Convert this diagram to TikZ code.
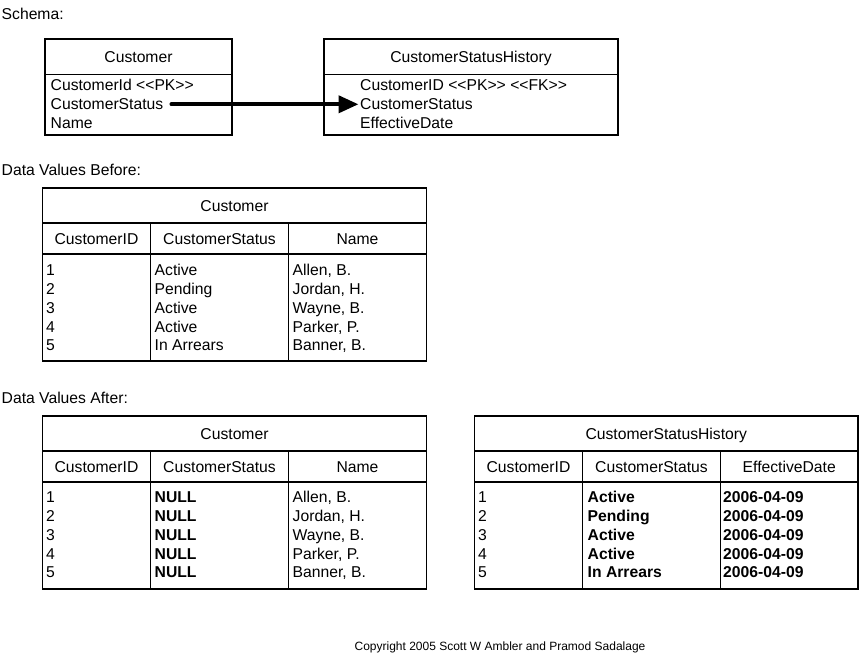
\documentclass[tikz,border=0pt]{standalone}
\usepackage{fontspec}
\setmainfont{Liberation Sans}
\usetikzlibrary{arrows.meta}
\newcommand\stereo[1]{<\kern0pt<#1>\kern0pt>}
\tikzset{
  txt/.style={font=\fontsize{15.7}{19}\selectfont, inner sep=0pt, text height=11.3pt, text depth=0pt},
  cell/.style={txt, anchor=west},
  boldcell/.style={cell, font=\fontsize{15.7}{19}\selectfont\bfseries},
  tblline/.style={draw, line width=1.4pt},
  link/.style={line width=4pt, line cap=round, -{Triangle[length=20pt,width=17pt]}}
}
\begin{document}
\begin{tikzpicture}[x=1pt,y=-1pt]
  \useasboundingbox (0,0) rectangle (860,655);

  % schema
  \node[cell] (schema) at (1.5,13.5) {Schema:};

  \draw[tblline] (45,39) rectangle (232,135);
  \draw[tblline] (45,74.5) -- (232,74.5);
  \node[txt] (custhead) at (138.5,57) {Customer};
  \node[cell] (custid) at (50.5,85) {CustomerId \stereo{PK}};
  \node[cell] (custstatus) at (50.5,104.3) {CustomerStatus};
  \node[cell] (custname) at (50.5,123.3) {Name};

  \draw[tblline] (324,39) rectangle (618,135);
  \draw[tblline] (324,74.5) -- (618,74.5);
  \node[txt] (histhead) at (471,57) {CustomerStatusHistory};
  \node[cell] (histid) at (360,85) {CustomerID \stereo{PK} \stereo{FK}};
  \node[cell] (histstatus) at (360,104.3) {CustomerStatus};
  \node[cell] (histdate) at (360,123.3) {EffectiveDate};

  \draw[link] ([xshift=8pt]custstatus.east) -- ([xshift=-1.5pt]histstatus.west);

  % data values before
  \node[cell] (before) at (1.5,170) {Data Values Before:};

  \draw[tblline] (42.5,188) rectangle (426.5,361);
  \draw[tblline] (42.5,223) -- (426.5,223);
  \draw[tblline] (42.5,254) -- (426.5,254);
  \draw[tblline] (150.5,223) -- (150.5,361);
  \draw[tblline] (288.5,223) -- (288.5,361);
  \node[txt] (bhead) at (234.5,206) {Customer};
  \node[txt] (bcol1) at (96.5,239) {CustomerID};
  \node[txt] (bcol2) at (219.5,239) {CustomerStatus};
  \node[txt] (bcol3) at (357.5,239) {Name};
  \foreach \id/\st/\nm [count=\i] in {1/Active/{Allen, B.}, 2/Pending/{Jordan, H.},
      3/Active/{Wayne, B.}, 4/Active/{Parker, P.}, 5/In Arrears/{Banner, B.}} {
    \node[cell] (bid\i) at (46,{270+18.8*(\i-1)}) {\id};
    \node[cell] (bst\i) at (154.5,{270+18.8*(\i-1)}) {\st};
    \node[cell] (bnm\i) at (292.5,{270+18.8*(\i-1)}) {\nm};
  }

  % data values after
  \node[cell] (after) at (1.5,398) {Data Values After:};

  \draw[tblline] (42.5,416) rectangle (426.5,589);
  \draw[tblline] (42.5,451) -- (426.5,451);
  \draw[tblline] (42.5,482) -- (426.5,482);
  \draw[tblline] (150.5,451) -- (150.5,589);
  \draw[tblline] (288.5,451) -- (288.5,589);
  \node[txt] (ahead) at (234.5,434) {Customer};
  \node[txt] (acol1) at (96.5,467) {CustomerID};
  \node[txt] (acol2) at (219.5,467) {CustomerStatus};
  \node[txt] (acol3) at (357.5,467) {Name};
  \foreach \nm [count=\i] in {{Allen, B.}, {Jordan, H.}, {Wayne, B.}, {Parker, P.}, {Banner, B.}} {
    \node[cell] (aid\i) at (46,{497+18.8*(\i-1)}) {\i};
    \node[boldcell] (ast\i) at (154.5,{497+18.8*(\i-1)}) {NULL};
    \node[cell] (anm\i) at (292.5,{497+18.8*(\i-1)}) {\nm};
  }

  \draw[tblline] (474.5,416) rectangle (858,589);
  \draw[tblline] (474.5,451) -- (858,451);
  \draw[tblline] (474.5,482) -- (858,482);
  \draw[tblline] (582.5,451) -- (582.5,589);
  \draw[tblline] (720.5,451) -- (720.5,589);
  \node[txt] (hhead) at (666.25,434) {CustomerStatusHistory};
  \node[txt] (hcol1) at (528.5,467) {CustomerID};
  \node[txt] (hcol2) at (651.5,467) {CustomerStatus};
  \node[txt] (hcol3) at (789.25,467) {EffectiveDate};
  \foreach \st [count=\i] in {Active, Pending, Active, Active, In Arrears} {
    \node[cell] (hid\i) at (478,{497+18.8*(\i-1)}) {\i};
    \node[boldcell] (hst\i) at (587.5,{497+18.8*(\i-1)}) {\st};
    \node[boldcell] (hdt\i) at (723,{497+18.8*(\i-1)}) {2006-04-09};
  }

  \node[txt, font=\fontsize{12}{14}\selectfont, text height=8.6pt] (copy) at (500,646)
    {Copyright 2005 Scott W Ambler and Pramod Sadalage};
\end{tikzpicture}
\end{document}
